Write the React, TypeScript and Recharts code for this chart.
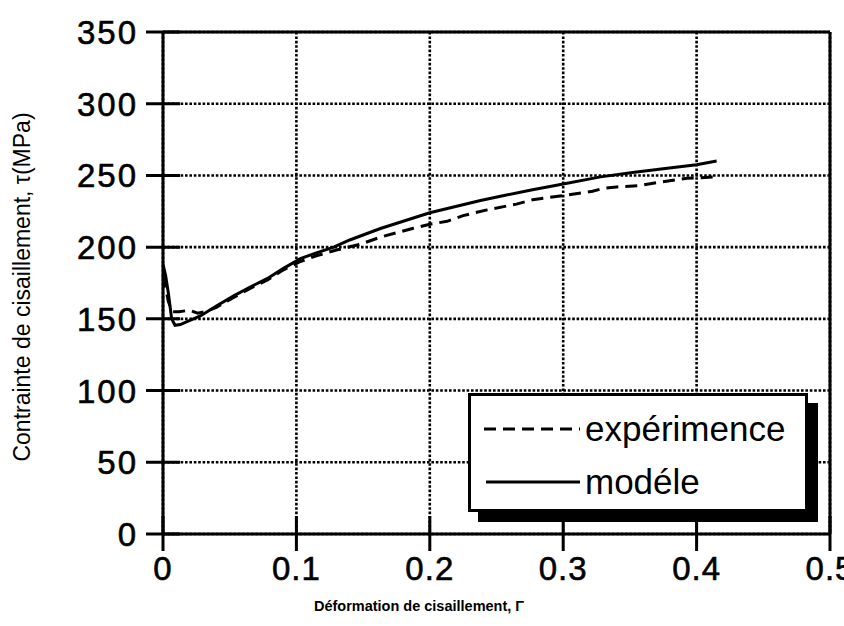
import React from 'react';
import { LineChart, Line, XAxis, YAxis, CartesianGrid, Legend } from 'recharts';

const FONT = '"Liberation Sans", Arial, Helvetica, sans-serif';

const X_TICKS = [0, 0.1, 0.2, 0.3, 0.4, 0.5];
const Y_TICKS = [0, 50, 100, 150, 200, 250, 300, 350];

// modèle (solid)
const MODEL_X = [
  0, 0.002, 0.004, 0.0065, 0.009, 0.013, 0.018, 0.028, 0.04, 0.053, 0.065, 0.078,
  0.09, 0.103, 0.115, 0.128, 0.14, 0.163, 0.2, 0.238, 0.253, 0.277, 0.3, 0.328,
  0.352, 0.378, 0.4, 0.415,
];
const MODEL_TAU = [
  188, 180, 168, 150, 145.5, 146, 148, 152, 159, 166, 172, 178,
  185, 192, 196, 200, 205, 213, 224, 232.5, 235.5, 240, 244, 249,
  252, 255, 257.5, 260,
];

// expérimence (dashed)
const EXP_X = [
  0, 0.002, 0.004, 0.007, 0.012, 0.02, 0.026, 0.032, 0.04, 0.053, 0.065, 0.078,
  0.09, 0.103, 0.115, 0.13, 0.148, 0.163, 0.187, 0.2, 0.213, 0.225, 0.243, 0.265,
  0.277, 0.3, 0.322, 0.33, 0.34, 0.358, 0.37, 0.393, 0.415,
];
const EXP_TAU = [
  180, 172, 162, 155, 155, 156, 154, 155, 158, 165, 171, 177,
  184, 190, 194, 198, 202, 207, 213, 216, 218, 222, 226, 230,
  233, 236, 239, 241, 242, 243, 245, 248, 249,
];

const model = MODEL_X.map((x, i) => ({ x, tau: MODEL_TAU[i] }));
const experiment = EXP_X.map((x, i) => ({ x, tau: EXP_TAU[i] }));

const GRID_LINE = { stroke: '#000', strokeWidth: 2.6, strokeDasharray: '2.6 1.8' };

const BottomTick = ({ x, y, payload }: any) => (
  <g>
    <line x1={x} x2={x} y1={y - 18} y2={y + 17} stroke="#000" strokeWidth={3} />
    <text x={x} y={y + 46} textAnchor="middle" fontSize={33} fontFamily={FONT} fill="#000"
      stroke="#000" strokeWidth={0.6} letterSpacing={1}>
      {payload.value}
    </text>
  </g>
);

const TopTick = ({ x, y }: any) => (
  <line x1={x} x2={x} y1={y - 17} y2={y + 8} stroke="#000" strokeWidth={3} />
);

const LeftTick = ({ x, y, payload }: any) => (
  <g>
    <line x1={x - 17} x2={x + 17} y1={y} y2={y} stroke="#000" strokeWidth={3} />
    <text x={x - 25} y={y + 12} textAnchor="end" fontSize={33} fontFamily={FONT} fill="#000"
      stroke="#000" strokeWidth={0.6} letterSpacing={2}>
      {payload.value}
    </text>
  </g>
);

const RightTick = ({ x, y }: any) => (
  <line x1={x - 22} x2={x + 4} y1={y} y2={y} stroke="#000" strokeWidth={3} />
);

const XTitle = ({ viewBox }: any) => (
  <text
    x={viewBox.x + 256}
    y={viewBox.y + 77}
    textAnchor="middle"
    fontSize={14.5}
    fontWeight="bold"
    fontFamily={FONT}
    fill="#000"
  >
    Déformation de  cisaillement, Γ
  </text>
);

const YTitle = ({ viewBox }: any) => {
  const cx = viewBox.x + 22;
  const cy = viewBox.y + viewBox.height / 2 + 4;
  return (
    <text
      x={cx}
      y={cy}
      transform={`rotate(-90 ${cx} ${cy})`}
      textAnchor="middle"
      dominantBaseline="central"
      fontSize={23}
      fontFamily={FONT}
      fill="#000"
    >
      Contrainte de cisaillement, τ(MPa)
    </text>
  );
};

const LegendBox = () => (
  <div
    style={{
      width: 334,
      height: 113,
      border: '3px solid #000',
      boxShadow: '10px 10px 0 #000',
      background: '#fff',
      fontFamily: FONT,
      fontSize: 35,
      color: '#000',
      position: 'relative',
    }}
  >
    <svg width={100} height={110} style={{ position: 'absolute', left: 10, top: 0 }}>
      <line x1={3} x2={99} y1={33} y2={33} stroke="#000" strokeWidth={3} strokeDasharray="12 7" />
      <line x1={5} x2={99} y1={86} y2={86} stroke="#000" strokeWidth={3} />
    </svg>
    <div style={{ position: 'absolute', left: 114, top: 10, lineHeight: '46px' }}>expérimence</div>
    <div style={{ position: 'absolute', left: 114, top: 63, lineHeight: '46px' }}>modéle</div>
  </div>
);

export default function App() {
  return (
    <div style={{ position: 'absolute', left: 0, top: 0, background: '#fff' }}>
      <LineChart width={844} height={626} margin={{ top: 31, right: 13, bottom: 0, left: 0 }}>
        <CartesianGrid
          xAxisId="b"
          yAxisId="l"
          horizontal={GRID_LINE}
          vertical={GRID_LINE}
          stroke="#000"
          strokeWidth={2.6}
          strokeDasharray="2.6 1.8"
          horizontalValues={Y_TICKS}
          verticalValues={X_TICKS}
        />
        <XAxis
          xAxisId="b"
          type="number"
          dataKey="x"
          domain={[0, 0.5]}
          ticks={X_TICKS}
          height={92}
          axisLine={{ stroke: '#000', strokeWidth: 3 }}
          tickLine={false}
          tickSize={0}
          tickMargin={0}
          tick={<BottomTick />}
          interval={0}
          label={<XTitle />}
        />
        <XAxis
          xAxisId="t"
          orientation="top"
          type="number"
          dataKey="x"
          domain={[0, 0.5]}
          ticks={X_TICKS}
          height={1}
          axisLine={{ stroke: '#000', strokeWidth: 3 }}
          tickLine={false}
          tickSize={0}
          tickMargin={0}
          tick={<TopTick />}
          interval={0}
        />
        <YAxis
          yAxisId="l"
          type="number"
          domain={[0, 350]}
          ticks={Y_TICKS}
          width={163}
          axisLine={{ stroke: '#000', strokeWidth: 3 }}
          tickLine={false}
          tickSize={0}
          tickMargin={0}
          tick={<LeftTick />}
          interval={0}
          label={<YTitle />}
        />
        <YAxis
          yAxisId="r"
          orientation="right"
          type="number"
          domain={[0, 350]}
          ticks={Y_TICKS}
          width={1}
          axisLine={{ stroke: '#000', strokeWidth: 3 }}
          tickLine={false}
          tickSize={0}
          tickMargin={0}
          tick={<RightTick />}
          interval={0}
        />
        <Line
          xAxisId="b"
          yAxisId="l"
          data={experiment}
          dataKey="tau"
          type="linear"
          stroke="#000"
          strokeWidth={3}
          strokeDasharray="12 7"
          dot={false}
          isAnimationActive={false}
        />
        <Line
          xAxisId="b"
          yAxisId="l"
          data={model}
          dataKey="tau"
          type="linear"
          stroke="#000"
          strokeWidth={3}
          dot={false}
          isAnimationActive={false}
        />
        <Legend
          layout="horizontal"
          verticalAlign="middle"
          align="center"
          content={<LegendBox />}
          wrapperStyle={{ position: 'absolute', left: 468, top: 393, width: 'auto', height: 'auto' }}
        />
      </LineChart>
    </div>
  );
}
